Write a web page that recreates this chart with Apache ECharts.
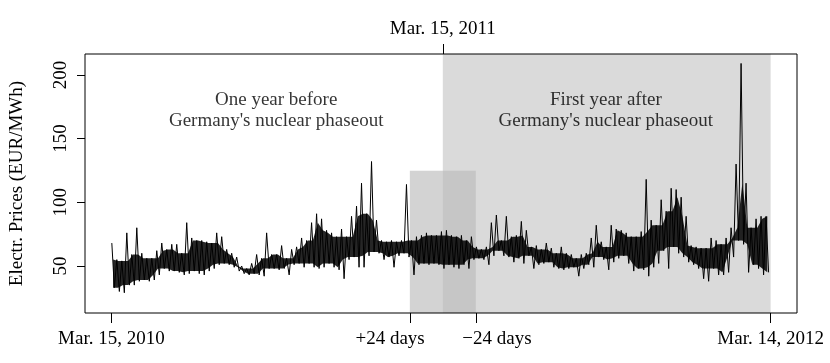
<!DOCTYPE html>
<html>
<head>
<meta charset="utf-8">
<script src="https://cdn.jsdelivr.net/npm/echarts@6/dist/echarts.min.js"></script>
<style>
html,body{margin:0;padding:0;background:#fff;}
#chart{width:830px;height:363px;}
</style>
</head>
<body>
<div id="chart"></div>
<script>
// Hourly price band, in ~5.5-day bins (upper / lower envelope)
const stepDays = 5.53;
const highs = [68,55,54,76,59,80,60,56,56,62, 68,63,67,67,60,84,72,70,70,69,
  68,76,73,63,60,57,50,48,52,59, 56,76,59,59,66,56,63,65,72,70,
  84,91,87,78,76,73,79,73,89,97, 115,91,132,86,70,69,70,69,70,114,
  70,73,74,76,74,74,77,78,74,73, 74,70,73,65,63,65,84,90,70,89,
  73,74,85,78,65,66,63,68,64,60, 65,60,59,56,59,60,72,82,69,65,
  82,79,78,76,73,73,77,118,86,82, 102,93,111,110,104,89,66,65,64,64,
  72,70,67,72,80,130,209,115,80,87, 89,89];
const lows = [33,30,29,35,35,38,39,38,39,43, 48,46,46,45,43,44,46,44,43,46,
  48,51,52,51,49,46,44,43,44,43, 42,48,48,47,48,43,51,52,49,52,
  49,48,49,52,49,47,40,55,57,49, 49,58,61,60,55,57,49,58,60,57,
  43,51,52,51,52,51,48,51,49,48, 51,48,55,56,55,51,58,62,58,57,
  53,56,52,58,48,51,52,53,49,48, 47,48,49,42,48,51,49,57,55,47,
  53,56,58,52,46,48,47,42,49,52, 62,48,65,60,57,53,51,48,40,38,
  48,43,43,45,57,70,67,45,51,48, 43,45];

// Axis marks (days since Mar. 15, 2010)
const bottomTickDays = [0, 330.5, 403.5, 730];
const bottomLabelDays = [0, 308.6, 427, 730];
const bottomTickLabels = ['Mar. 15, 2010', '+24 days', '\u221224 days', 'Mar. 14, 2012'];
const topTickDays = [367];
const topTickLabels = ['Mar. 15, 2011'];
const yTicks = [50, 100, 150, 200];
const afterRegion = [367, 730];
const windowRegion = [330.5, 403.5];
const windowTop = 124.8;
const annotations = [
  {day: 182.5, value: 172, text: "One year before\nGermany's nuclear phaseout"},
  {day: 547.5, value: 172, text: "First year after\nGermany's nuclear phaseout"}
];

const FONT = '"Liberation Serif", "Times New Roman", serif';
const FS = 19;

const n = highs.length;
const hiDay = i => 0.5 + i * stepDays;
const loDay = i => 3.3 + i * stepDays;
const lineData = [];
for (let i = 0; i < n; i++) { lineData.push([hiDay(i), highs[i]]); lineData.push([loDay(i), lows[i]]); }
// dense core of the trace: where neighbouring bins overlap
const nb = (arr, i, f) => f(arr[Math.max(0, i - 1)], arr[i], arr[Math.min(n - 1, i + 1)]);
const coreTop = [], coreBot = [];
for (let i = 0; i < n; i++) {
  coreTop.push([(hiDay(i) + loDay(i)) / 2, nb(highs, i, Math.min)]);
  coreBot.push([(hiDay(i) + loDay(i)) / 2, nb(lows, i, Math.max)]);
}

const chart = echarts.init(document.getElementById('chart'), null, {renderer: 'canvas'});
const xMin = -29.2, xMax = 759.2, yMin = 13.1, yMax = 216.4;

chart.setOption({
  animation: false,
  backgroundColor: '#fff',
  textStyle: {fontFamily: FONT, color: '#000'},
  grid: {left: 85, right: 33, top: 54, bottom: 50, show: true, z: 10,
         borderColor: '#000', borderWidth: 1, backgroundColor: 'transparent'},
  xAxis: [{
    type: 'value', min: xMin, max: xMax, position: 'bottom',
    splitLine: {show: false}, axisLine: {show: false, onZero: false},
    axisTick: {show: true, length: 10, inside: false, customValues: bottomTickDays,
               lineStyle: {color: '#000', width: 1}},
    axisLabel: {show: true, customValues: bottomLabelDays, margin: 17,
      fontFamily: FONT, fontSize: FS, color: '#000',
      formatter: v => { const i = bottomLabelDays.indexOf(v); return i >= 0 ? bottomTickLabels[i] : ''; }}
  }, {
    type: 'value', min: xMin, max: xMax, position: 'top',
    splitLine: {show: false}, axisLine: {show: false, onZero: false},
    axisTick: {show: true, length: 10, inside: false, customValues: topTickDays,
               lineStyle: {color: '#000', width: 1}},
    axisLabel: {show: true, customValues: topTickDays, margin: 15,
      fontFamily: FONT, fontSize: FS, color: '#000',
      formatter: v => { const i = topTickDays.indexOf(v); return i >= 0 ? topTickLabels[i] : ''; }}
  }],
  yAxis: {
    type: 'value', min: yMin, max: yMax,
    splitLine: {show: false}, axisLine: {show: false, onZero: false},
    name: 'Electr. Prices (EUR/MWh)', nameLocation: 'middle', nameRotate: 90, nameGap: 58,
    nameTextStyle: {fontFamily: FONT, fontSize: FS, color: '#000'},
    axisTick: {show: true, length: 8, customValues: yTicks, lineStyle: {color: '#000', width: 1}},
    axisLabel: {show: true, rotate: 90, customValues: yTicks, margin: 14,
      fontFamily: FONT, fontSize: FS, color: '#000'}
  },
  series: [{
    type: 'line', z: 1, data: [], silent: true,
    markArea: {silent: true, label: {show: false},
      data: [
        [{xAxis: afterRegion[0], yAxis: yMin, itemStyle: {color: '#dadada'}}, {xAxis: afterRegion[1], yAxis: yMax}],
        [{xAxis: windowRegion[0], yAxis: yMin, itemStyle: {color: 'rgba(187,187,187,0.65)'}}, {xAxis: windowRegion[1], yAxis: windowTop}]
      ]}
  }, {
    type: 'custom', z: 2, silent: true, data: [0],
    renderItem: (params, api) => {
      const pts = coreTop.map(p => api.coord(p)).concat(coreBot.slice().reverse().map(p => api.coord(p)));
      return {type: 'polygon', shape: {points: pts}, style: {fill: 'rgba(0,0,0,0.85)', stroke: null}};
    }
  }, {
    type: 'line', z: 3, data: lineData, showSymbol: false, symbol: 'none',
    lineStyle: {color: '#000', width: 1}, silent: true
  }, {
    type: 'scatter', z: 4, symbolSize: 0, silent: true,
    data: annotations.map(a => ({value: [a.day, a.value], label: {formatter: a.text}})),
    label: {show: true, position: 'inside', fontFamily: FONT, fontSize: FS, color: '#000',
            lineHeight: 21, align: 'center', verticalAlign: 'middle'}
  }]
});
</script>
</body>
</html>
